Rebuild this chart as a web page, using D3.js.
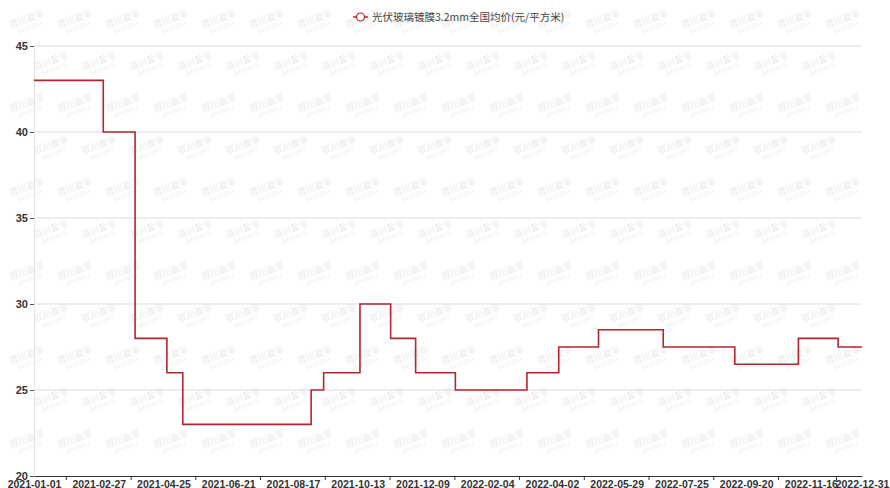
<!DOCTYPE html>
<html>
<head>
<meta charset="utf-8">
<script src="https://cdn.jsdelivr.net/npm/d3@7"></script>
<style>
  body { margin: 0; background: #fff; }
  svg { display: block; }
</style>
</head>
<body>
<div id="chart"></div>
<script>
// Series: step price, value holds from each date until the next one
const seriesName = "光伏玻璃镀膜3.2mm全国均价(元/平方米)";
const changeDates = ["2021-01-01", "2021-03-03", "2021-03-31", "2021-04-28", "2021-05-12",
    "2021-09-02", "2021-09-13", "2021-10-15", "2021-11-11", "2021-12-03", "2022-01-07",
    "2022-03-11", "2022-04-08", "2022-05-13", "2022-07-09", "2022-09-10", "2022-11-05",
    "2022-12-10", "2022-12-31"];
const prices = [43, 40, 28, 26, 23, 25, 26, 30, 28, 26, 25, 26, 27.5, 28.5, 27.5, 26.5, 28, 27.5, 27.5];

const xTickLabels = ["2021-01-01", "2021-02-27", "2021-04-25", "2021-06-21", "2021-08-17",
    "2021-10-13", "2021-12-09", "2022-02-04", "2022-04-02", "2022-05-29", "2022-07-25",
    "2022-09-20", "2022-11-16", "2022-12-31"];
const yTicks = [20, 25, 30, 35, 40, 45];

const width = 890;
const height = 488;
const margin = { top: 46, right: 28, bottom: 12, left: 34 };
const lineColor = "#b3262e";

const parse = d3.utcParse("%Y-%m-%d");
const data = changeDates.map((d, i) => ({ date: parse(d), value: prices[i] }));

const svg = d3.select("#chart")
    .append("svg")
    .attr("width", width)
    .attr("height", height);

const x = d3.scaleUtc()
    .domain([parse(xTickLabels[0]), parse(xTickLabels[xTickLabels.length - 1])])
    .range([margin.left, width - margin.right]);

const y = d3.scaleLinear()
    .domain([20, 45])
    .range([height - margin.bottom, margin.top]);

// Watermark pattern (kept inside the picture)
const wm = svg.append("g").attr("fill", "#f0f0f0").attr("font-family", "'Noto Sans CJK SC', sans-serif");
for (let row = 0; row < 11; row++) {
    for (let col = 0; col < 18; col++) {
        const cx = col * 48 + (row % 2) * 24 + 28;
        const cy = row * 42 + 22;
        if (cx > width - 28) continue;
        const g = wm.append("g").attr("transform", `translate(${cx},${cy}) rotate(-20)`);
        g.append("text").attr("text-anchor", "middle").attr("font-size", 9).attr("font-weight", "bold").text("百川盈孚");
        g.append("text").attr("text-anchor", "middle").attr("y", 8).attr("font-size", 6.5)
            .attr("font-family", "Arial, sans-serif").text("BAIINFO");
    }
}

// Horizontal grid lines
svg.append("g")
    .selectAll("line")
    .data(yTicks.slice(1))
    .join("line")
    .attr("x1", margin.left)
    .attr("x2", width - margin.right)
    .attr("y1", d => y(d))
    .attr("y2", d => y(d))
    .attr("stroke", "#dcdcdc");

// Y axis
const yAxis = svg.append("g")
    .attr("transform", `translate(${margin.left},0)`)
    .call(d3.axisLeft(y).tickValues(yTicks).tickSize(4).tickPadding(2));
yAxis.select(".domain").attr("stroke", "#e4e4e4");
yAxis.selectAll(".tick line").attr("stroke", "#555");
yAxis.selectAll("text")
    .attr("fill", "#333")
    .style("font", "bold 11px Arial, 'Liberation Sans', sans-serif");

// X axis (labels on the dates, tick marks between them)
const labelDates = xTickLabels.map(parse);
const xAxis = svg.append("g")
    .attr("transform", `translate(0,${height - margin.bottom})`)
    .call(d3.axisBottom(x).tickValues(labelDates).tickSize(0).tickPadding(5)
        .tickFormat(d3.utcFormat("%Y-%m-%d")));
xAxis.select(".domain").attr("stroke", "#333");
xAxis.selectAll("text")
    .attr("fill", "#333")
    .style("font", "bold 10.5px Arial, 'Liberation Sans', sans-serif");

const mids = labelDates.slice(1).map((d, i) => (x(labelDates[i]) + x(d)) / 2);
svg.append("g")
    .selectAll("line")
    .data(mids)
    .join("line")
    .attr("x1", d => d)
    .attr("x2", d => d)
    .attr("y1", height - margin.bottom)
    .attr("y2", height - margin.bottom + 4)
    .attr("stroke", "#333");

// Step line
const line = d3.line()
    .x(d => x(d.date))
    .y(d => y(d.value))
    .curve(d3.curveStepAfter);

svg.append("path")
    .datum(data)
    .attr("fill", "none")
    .attr("stroke", lineColor)
    .attr("stroke-width", 1.6)
    .attr("d", line);

// Legend
const legend = svg.append("g").attr("transform", "translate(353,17)");
legend.append("line")
    .attr("x1", 0).attr("x2", 15)
    .attr("stroke", lineColor).attr("stroke-width", 1.5);
legend.append("circle")
    .attr("cx", 7.5).attr("r", 4)
    .attr("fill", "#fff").attr("stroke", lineColor).attr("stroke-width", 1.2);
legend.append("text")
    .attr("x", 19).attr("y", 4)
    .attr("fill", "#444")
    .style("font", "10.5px 'Noto Sans CJK SC', sans-serif")
    .text(seriesName);
</script>
</body>
</html>
